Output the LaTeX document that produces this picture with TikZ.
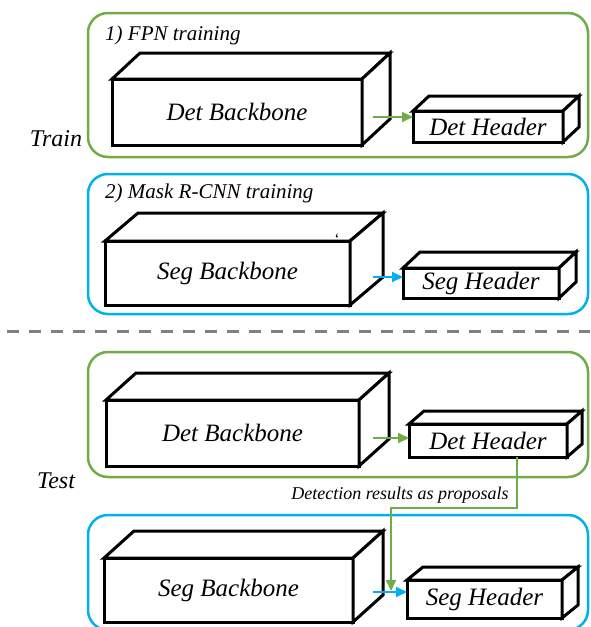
\documentclass[tikz,border=0pt]{standalone}
\usepackage{fontspec}
\setmainfont{Liberation Serif}
\usetikzlibrary{calc,arrows.meta}
\definecolor{pgreen}{RGB}{112,173,71}
\definecolor{pblue}{RGB}{0,176,240}
\definecolor{dgray}{RGB}{128,128,128}
\tikzset{
 panel/.style={line width=2.5pt, rounded corners=20pt},
 frontface/.style={draw, line width=3pt, fill=white, inner sep=0pt, outer sep=0pt, line join=miter,
   font=\fontsize{25}{29}\selectfont\itshape},
 face/.style={draw, line width=3pt, fill=white, line join=miter},
 flow/.style={line width=2pt, -{Triangle[length=11pt,width=10pt]}},
 sidelabel/.style={font=\fontsize{24}{28}\selectfont\itshape, inner sep=0pt},
 paneltitle/.style={font=\fontsize{21}{25}\selectfont\itshape, inner sep=0pt, anchor=base west},
}
% name, x1, y1, x2, y2, dx, dy, text
\newcommand\cuboid[8]{%
 \node[frontface, minimum width={(#4-#2)*1pt}, minimum height={(#5-#3)*1pt}]
   (#1) at ({(#2+#4)/2},{(#3+#5)/2}) {#8};
 \draw[face] (#1.north west) -- ++(#6,#7) -- ($(#1.north east)+(#6,#7)$) -- (#1.north east) -- cycle;
 \draw[face] (#1.north east) -- ++(#6,#7) -- ($(#1.south east)+(#6,#7)$) -- (#1.south east) -- cycle;
}
\begin{document}
\begin{tikzpicture}[x=1pt,y=-1pt]
\useasboundingbox (0,0) rectangle (590,627);
\clip (0,0) rectangle (590,627);
\fill[white] (0,0) rectangle (590,627);

% panels
\draw[panel, pgreen] (88,13) rectangle (588,157);
\draw[panel, pblue] (88,174) rectangle (588,314);
\draw[panel, pgreen] (88,352) rectangle (588,477);
\draw[panel, pblue] (88,515) rectangle (588,630);

% titles and side labels
\node[paneltitle] (t1) at (105,40) {1) FPN training};
\node[paneltitle] (t2) at (105,198) {2) Mask R-CNN training};
\node[sidelabel] (train) at (56,139) {Train};
\node[sidelabel] (test) at (56,481) {Test};

% dashed separator
\draw[dgray, line width=3pt, dash pattern=on 12pt off 10pt] (7,331) -- (590,331);

% training boxes
\cuboid{A1}{112}{79}{362}{145}{28}{-26}{Det Backbone}
\cuboid{A2}{413}{111}{563}{142}{16}{-15}{Det Header}
\cuboid{B1}{105}{241}{350}{305}{33}{-28}{Seg Backbone}
\cuboid{B2}{403}{268}{559}{298}{17}{-16}{Seg Header}
\node[font=\fontsize{16}{18}\selectfont, inner sep=0pt] (tick) at (337,239) {\symbol{96}};

% test boxes
\cuboid{C1}{106}{400}{359}{466}{30}{-27}{Det Backbone}
\cuboid{C2}{409}{424}{567}{457}{15}{-13}{Det Header}
\cuboid{D1}{104}{558}{353}{622}{30}{-27}{Seg Backbone}
\cuboid{D2}{407}{580}{562}{618}{16}{-13}{Seg Header}

% arrows
\coordinate (a1) at (373,117);
\coordinate (b1) at (373,277);
\coordinate (c1) at (373,438);
\coordinate (d1) at (373,592);
\draw[flow, pgreen] (a1) -- (A2.west |- a1);
\draw[flow, pblue] (b1) -- (B2.west |- b1);
\draw[flow, pgreen] (c1) -- (C2.west |- c1);
\draw[flow, pblue] (d1) -- (D2.west |- d1);

% proposals connector
\coordinate (p1) at (517,508);
\coordinate (p2) at (391,508);
\coordinate (p3) at (391,591);
\draw[flow, pgreen, line join=miter] (C2.south -| p1) -- (p1) -- (p2) -- (p3);
\node[font=\fontsize{18}{21}\selectfont\itshape, inner sep=0pt] (prop) at (400,495) {Detection results as proposals};
\end{tikzpicture}
\end{document}
